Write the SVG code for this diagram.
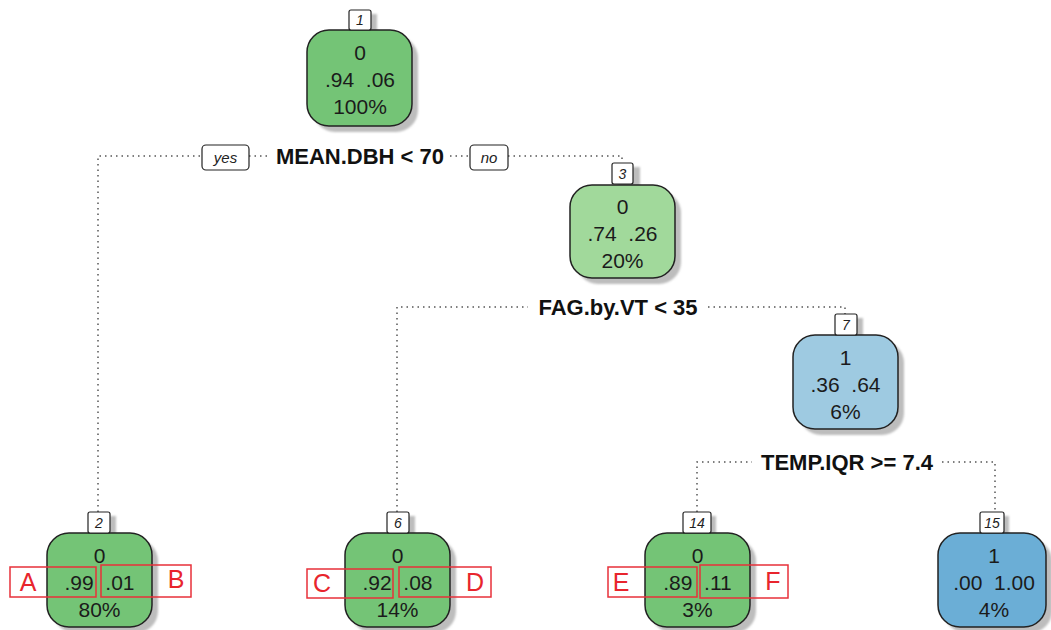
<svg xmlns="http://www.w3.org/2000/svg" width="1051" height="630" viewBox="0 0 1051 630">
<defs>
<filter id="blur" x="-20%" y="-20%" width="140%" height="140%"><feGaussianBlur stdDeviation="1.2"/></filter>
<style>
.shadow{fill:#bdbdbd;filter:url(#blur)}
.node{stroke:#222;stroke-width:1.5}
.g1{fill:#74c476}.g2{fill:#a1d99b}.b1{fill:#9ecae1}.b2{fill:#6baed6}
.lbl{fill:#fff;stroke:#222;stroke-width:1.2}
.lt{font-family:"Liberation Sans",Arial,sans-serif;font-size:14px;font-style:italic;fill:#222;text-anchor:middle}
.nt{font-family:"Liberation Sans",Arial,sans-serif;font-size:21px;fill:#1b1b1b;text-anchor:middle;white-space:pre}
.ct{font-family:"Liberation Sans",Arial,sans-serif;font-size:22px;font-weight:bold;fill:#111;text-anchor:middle}
.yn{fill:#fff;stroke:#222;stroke-width:1.2}
.ynt{font-family:"Liberation Sans",Arial,sans-serif;font-size:15px;font-style:italic;fill:#222;text-anchor:middle}
.edge{fill:none;stroke:#555;stroke-width:1.5;stroke-dasharray:1.5 4}
.rb{fill:none;stroke:#e8313a;stroke-width:1.5}
.rt{font-family:"Liberation Sans",Arial,sans-serif;font-size:25px;fill:#e8252d;text-anchor:middle}
</style>
</defs>
<rect width="1051" height="630" fill="#fff"/>
<g id="connectors">
<path class="edge" d="M98,512 V156 H202 M249,156 H270 M450,156 H470 M508,156 H622 V163"/>
<path class="edge" d="M397,512 V307 H528 M708,307 H845 V314"/>
<path class="edge" d="M697,512 V462 H752 M942,462 H995 V512"/>
<rect class="yn" x="202" y="145" width="47" height="25" rx="4"/>
<text class="ynt" x="225.5" y="163">yes</text>
<rect class="yn" x="470" y="145" width="38" height="25" rx="4"/>
<text class="ynt" x="489" y="163">no</text>
<text class="ct" x="360" y="164">MEAN.DBH &lt; 70</text>
<text class="ct" x="618" y="315">FAG.by.VT &lt; 35</text>
<text class="ct" x="847" y="470">TEMP.IQR &gt;= 7.4</text>
</g>
<g id="node1">
<rect class="shadow" x="355" y="14" width="22" height="20"/>
<rect class="shadow" x="313" y="36" width="105" height="96" rx="22"/>
<rect class="node g1" x="307" y="30" width="105" height="96" rx="22"/>
<rect class="lbl" x="349" y="10" width="22" height="20" rx="2"/>
<text class="lt" x="360" y="25">1</text>
<text class="nt" x="360" y="60">0</text>
<text class="nt" x="360" y="87" xml:space="preserve">.94  .06</text>
<text class="nt" x="360" y="114">100%</text>
</g>
<g id="node3">
<rect class="shadow" x="618" y="167" width="22" height="20"/>
<rect class="shadow" x="576" y="191" width="105" height="93" rx="22"/>
<rect class="node g2" x="570" y="185" width="105" height="93" rx="22"/>
<rect class="lbl" x="612" y="163" width="21" height="21" rx="2"/>
<text class="lt" x="622.5" y="179">3</text>
<text class="nt" x="622.5" y="214">0</text>
<text class="nt" x="622.5" y="241" xml:space="preserve">.74  .26</text>
<text class="nt" x="622.5" y="268">20%</text>
</g>
<g id="node7">
<rect class="shadow" x="841" y="318" width="22" height="20"/>
<rect class="shadow" x="799" y="341" width="105" height="94" rx="22"/>
<rect class="node b1" x="793" y="335" width="105" height="94" rx="22"/>
<rect class="lbl" x="835" y="314" width="22" height="21" rx="2"/>
<text class="lt" x="846" y="330">7</text>
<text class="nt" x="845.5" y="365">1</text>
<text class="nt" x="845.5" y="392" xml:space="preserve">.36  .64</text>
<text class="nt" x="845.5" y="419">6%</text>
</g>
<g id="node2">
<rect class="shadow" x="94" y="516" width="22" height="20"/>
<rect class="shadow" x="53" y="539" width="105" height="94" rx="22"/>
<rect class="node g1" x="47" y="533" width="105" height="94" rx="22"/>
<rect class="lbl" x="88" y="512" width="22" height="21" rx="2"/>
<text class="lt" x="99" y="528">2</text>
<text class="nt" x="99.5" y="563">0</text>
<text class="nt" x="99.5" y="590" xml:space="preserve">.99  .01</text>
<text class="nt" x="99.5" y="617">80%</text>
</g>
<g id="node6">
<rect class="shadow" x="393" y="516" width="22" height="20"/>
<rect class="shadow" x="351" y="539" width="105" height="94" rx="22"/>
<rect class="node g1" x="345" y="533" width="105" height="94" rx="22"/>
<rect class="lbl" x="387" y="512" width="22" height="21" rx="2"/>
<text class="lt" x="398" y="528">6</text>
<text class="nt" x="397.5" y="563">0</text>
<text class="nt" x="397.5" y="590" xml:space="preserve">.92  .08</text>
<text class="nt" x="397.5" y="617">14%</text>
</g>
<g id="node14">
<rect class="shadow" x="689" y="516" width="27" height="20"/>
<rect class="shadow" x="651" y="539" width="105" height="94" rx="22"/>
<rect class="node g1" x="645" y="533" width="105" height="94" rx="22"/>
<rect class="lbl" x="683" y="512" width="28" height="21" rx="2"/>
<text class="lt" x="697" y="528">14</text>
<text class="nt" x="697.5" y="563">0</text>
<text class="nt" x="697.5" y="590" xml:space="preserve">.89  .11</text>
<text class="nt" x="697.5" y="617">3%</text>
</g>
<g id="node15">
<rect class="shadow" x="986" y="516" width="23" height="20"/>
<rect class="shadow" x="944" y="539" width="108" height="94" rx="22"/>
<rect class="node b2" x="938" y="533" width="108" height="94" rx="22"/>
<rect class="lbl" x="980" y="512" width="24" height="21" rx="2"/>
<text class="lt" x="992" y="528">15</text>
<text class="nt" x="994" y="563">1</text>
<text class="nt" x="994" y="590" xml:space="preserve">.00  1.00</text>
<text class="nt" x="994" y="617">4%</text>
</g>
<g id="annotations">
<rect class="rb" x="10" y="567" width="86" height="30"/>
<text class="rt" x="28" y="591">A</text>
<rect class="rb" x="101" y="565" width="90" height="32"/>
<text class="rt" x="176" y="588">B</text>
<rect class="rb" x="307" y="569" width="86" height="29"/>
<text class="rt" x="322" y="592">C</text>
<rect class="rb" x="399" y="567" width="92" height="30"/>
<text class="rt" x="475" y="591">D</text>
<rect class="rb" x="608" y="567" width="89" height="30"/>
<text class="rt" x="621" y="591">E</text>
<rect class="rb" x="700" y="565" width="88" height="33"/>
<text class="rt" x="773" y="590">F</text>
</g>
</svg>
